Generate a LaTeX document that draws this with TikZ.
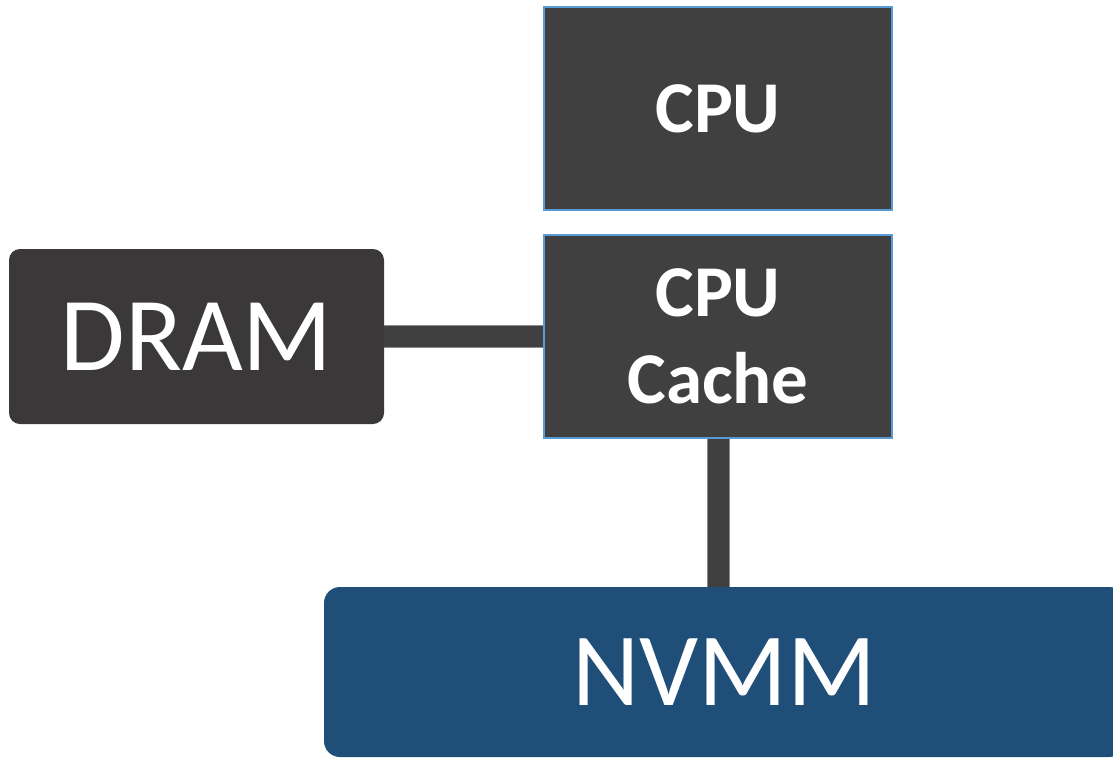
\documentclass[tikz,border=0pt]{standalone}
\usepackage{fontspec}
\setmainfont{Carlito}
\definecolor{boxgray}{HTML}{404040}
\definecolor{dramgray}{HTML}{3A3838}
\definecolor{edgeblue}{HTML}{5B9BD5}
\definecolor{nvmmblue}{HTML}{1F4E79}
\definecolor{baredge}{HTML}{8A8A8A}
\tikzset{
  cpubox/.style={rectangle, fill=boxgray, draw=edgeblue, line width=1.3pt,
    minimum width=348pt, minimum height=203pt, inner sep=0pt,
    text=white, font=\bfseries\fontsize{73}{87}\selectfont, align=center},
  membox/.style={rectangle, rounded corners=11pt, inner sep=0pt, text=white},
  bus/.style={line width=21pt, draw=boxgray,
    preaction={draw=baredge, line width=23pt}},
}
\begin{document}
\begin{tikzpicture}[x=1pt,y=-1pt]
  \useasboundingbox (0,0) rectangle (1113,758);
  \begin{scope}
    \clip (0,0) rectangle (1113,758);
    % memory modules and processor blocks
    \node[membox, fill=dramgray, minimum width=375pt, minimum height=175pt,
      font=\fontsize{105}{120}\selectfont] (dram) at (196.5,336.5) {DRAM};
    \node[cpubox] (cpu) at (718,108.5) {CPU};
    \node[cpubox] (cache) at (718,336.5) {CPU\\Cache};
    \node[membox, fill=nvmmblue, rounded corners=16pt, minimum width=801pt,
      minimum height=170pt, font=\fontsize{104}{120}\selectfont]
      (nvmm) at (724.5,672) {NVMM};
    % buses between the cache and the two memories
    \draw[bus] (dram.east) -- (cache.west);
    \draw[bus] (cache.south) -- (cache.south |- nvmm.north);
  \end{scope}
\end{tikzpicture}
\end{document}
